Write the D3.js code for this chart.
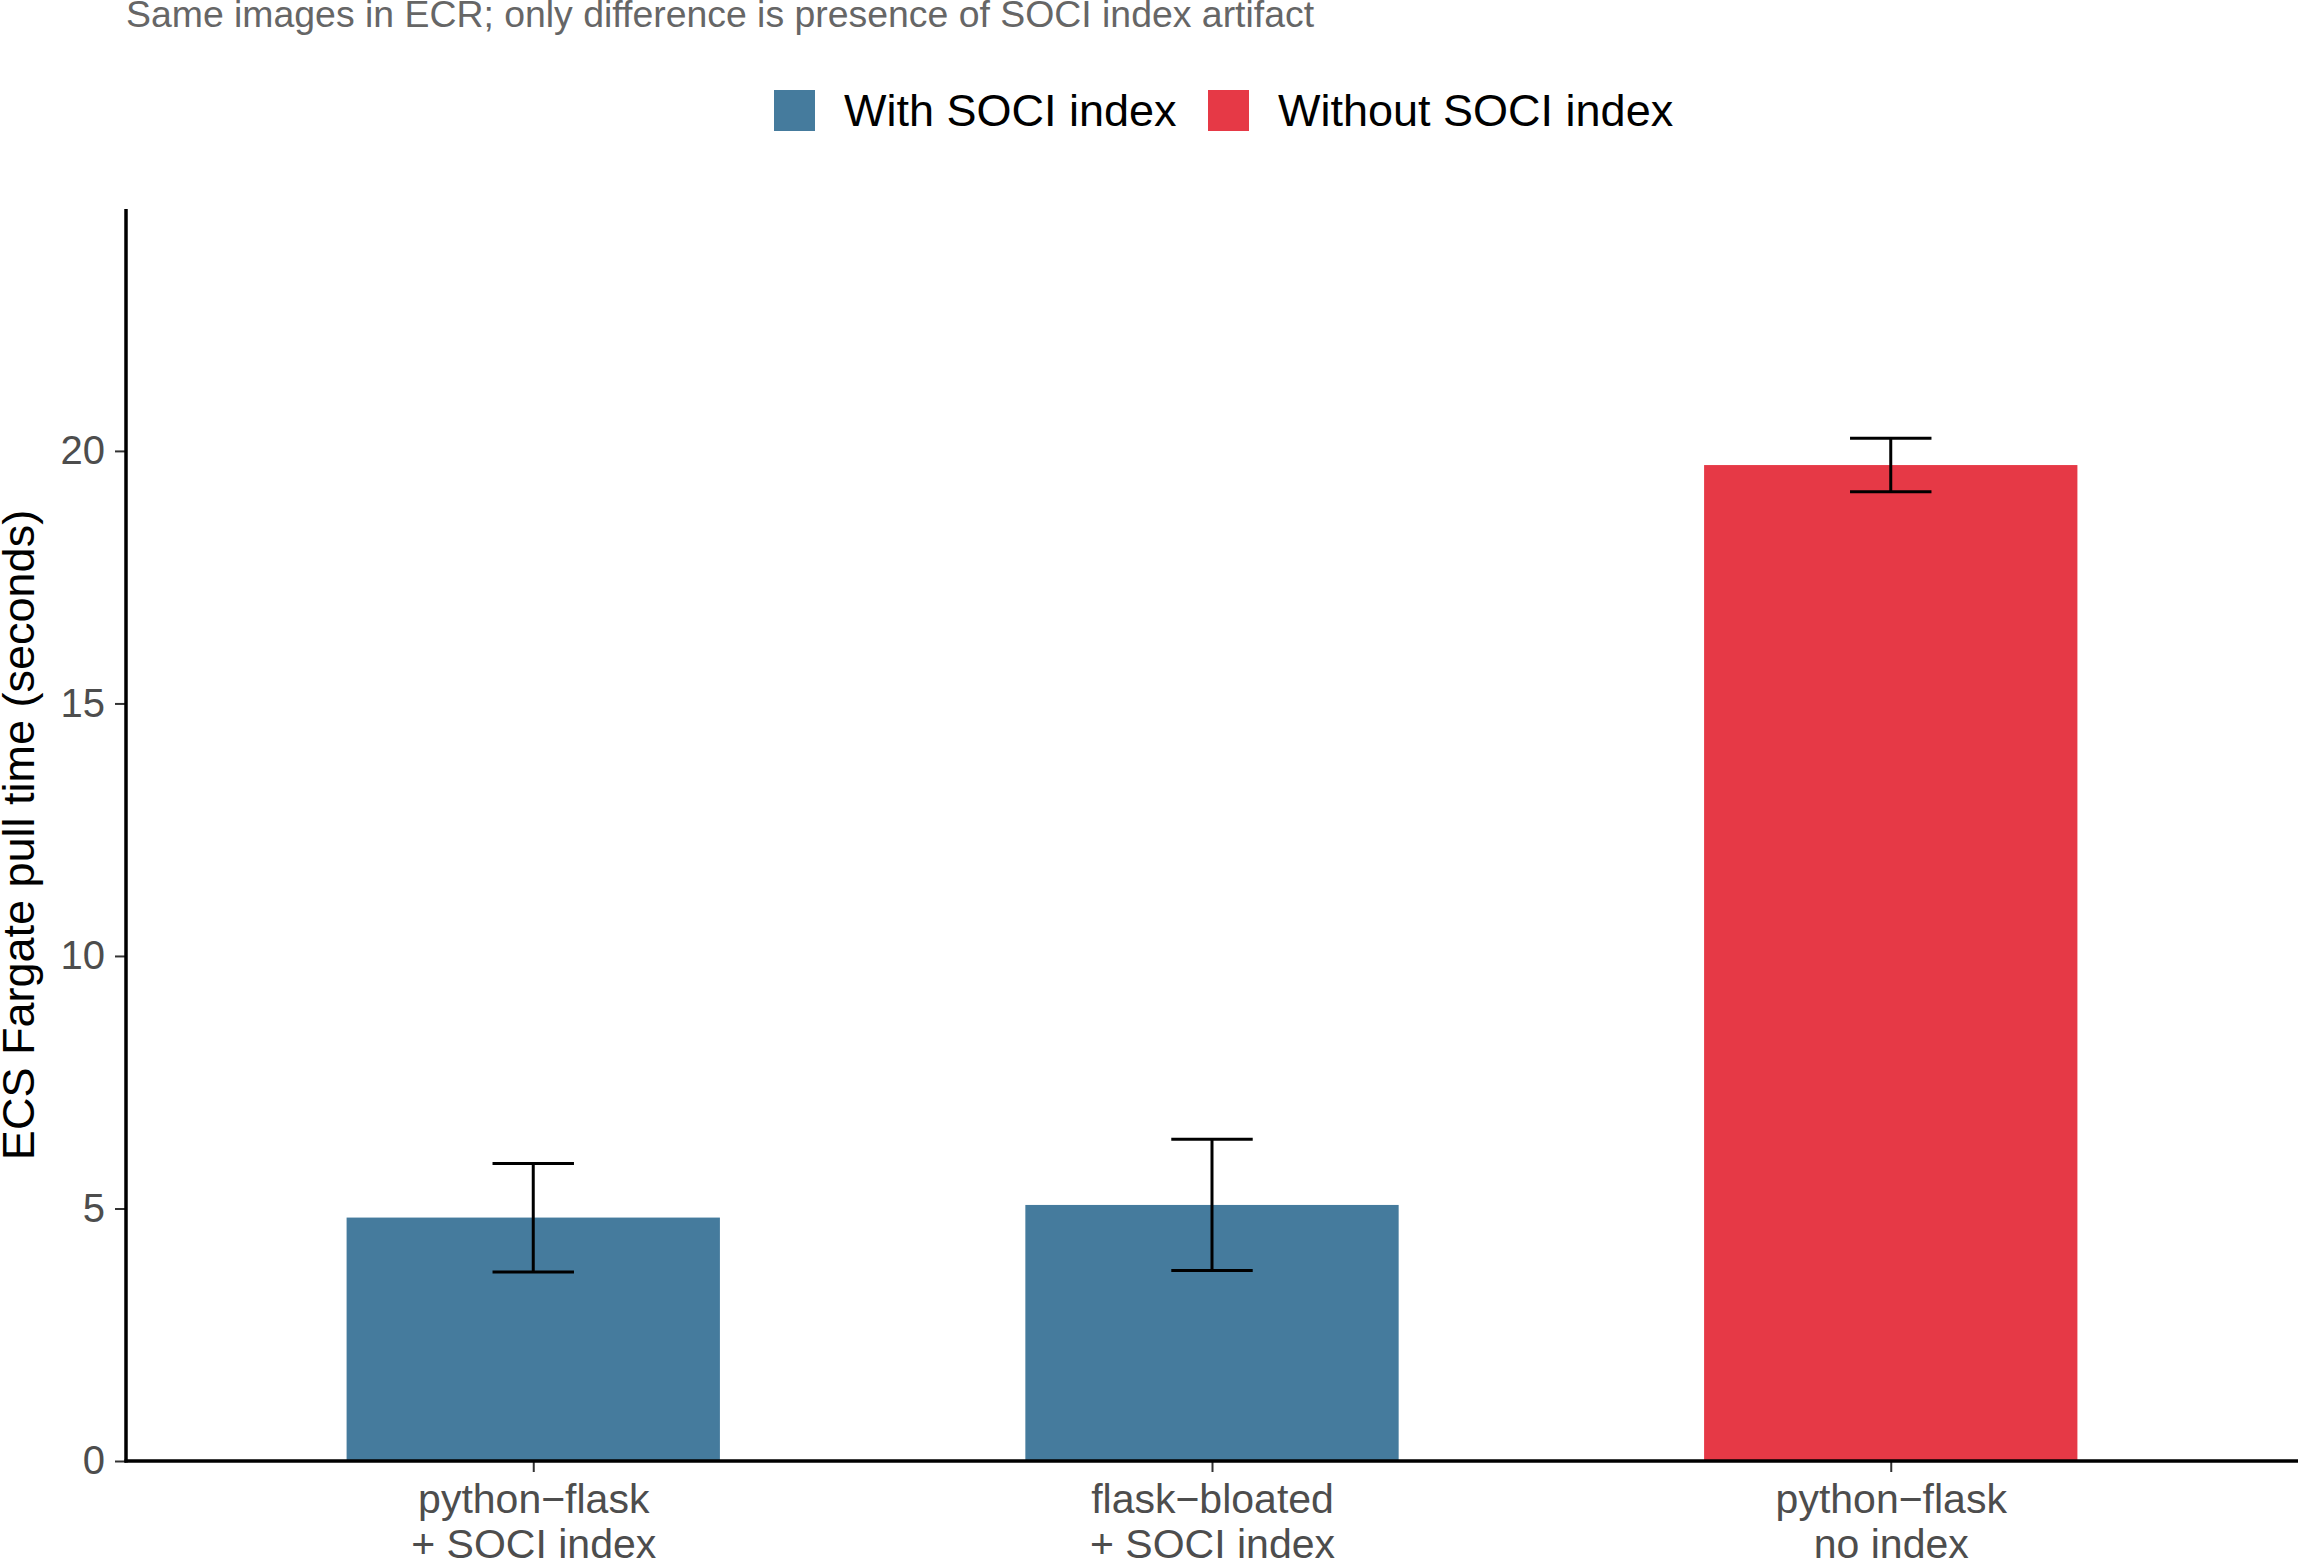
<!DOCTYPE html>
<html>
<head>
<meta charset="utf-8">
<script src="https://cdn.jsdelivr.net/npm/d3@7"></script>
<style>
  html, body { margin: 0; padding: 0; background: #fff; }
  svg { display: block; font-family: "Liberation Sans", Arial, Helvetica, sans-serif; }
</style>
</head>
<body>
<svg id="chart" width="2298" height="1560"></svg>
<script>
// ---- data ----
const categories = ["python\u2212flask\n+ SOCI index", "flask\u2212bloated\n+ SOCI index", "python\u2212flask\nno index"];
const groups = ["With SOCI index", "With SOCI index", "Without SOCI index"];
const means = [4.82, 5.07, 19.72];
const errLow = [3.74, 3.77, 19.19];
const errHigh = [5.89, 6.37, 20.25];
const yTicks = [0, 5, 10, 15, 20];
const legendLabels = ["With SOCI index", "Without SOCI index"];
const legendColors = ["#457B9D", "#E63946"];
const subtitle = "Same images in ECR; only difference is presence of SOCI index artifact";
const yTitle = "ECS Fargate pull time (seconds)";

// ---- layout ----
const svg = d3.select("#chart");
const W = 2298, H = 1560;
const plot = { left: 126, right: 2298, top: 209, bottom: 1461 };

const color = d3.scaleOrdinal().domain(legendLabels).range(legendColors);

const x = d3.scaleBand()
  .domain(categories)
  .range([plot.left, plot.right])
  .paddingInner(0.45)
  .paddingOuter(0.6 - 0.45 / 2 + 0.225); // approximate ggplot discrete expansion
// compute to match ggplot: centers at left + (0.6 + i) * unit
const unit = (plot.right - plot.left) / (categories.length - 1 + 1.2);
const barW = 0.55 * unit;
const xCenter = d3.scalePoint().domain(categories)
  .range([plot.left + 0.6 * unit, plot.left + (0.6 + categories.length - 1) * unit]);

const y = d3.scaleLinear().domain([0, 24.79]).range([plot.bottom, plot.top]);

// subtitle
svg.append("text")
  .attr("x", plot.left).attr("y", 27)
  .attr("font-size", 37.4).attr("fill", "#666666")
  .text(subtitle);

// legend
const legend = svg.append("g");
const legendX = [774, 1208];
legendLabels.forEach((lab, i) => {
  legend.append("rect")
    .attr("x", legendX[i]).attr("y", 90).attr("width", 41).attr("height", 41)
    .attr("fill", color(lab));
  legend.append("text")
    .attr("x", legendX[i] + 70).attr("y", 110.5)
    .attr("dy", "0.35em")
    .attr("font-size", 45).attr("fill", "#000")
    .text(lab);
});

// bars
const data = categories.map((c, i) => ({ c, g: groups[i], m: means[i], lo: errLow[i], hi: errHigh[i] }));
svg.append("g").selectAll("rect").data(data).join("rect")
  .attr("x", d => xCenter(d.c) - barW / 2)
  .attr("width", barW)
  .attr("y", d => y(d.m))
  .attr("height", d => y(0) - y(d.m))
  .attr("fill", d => color(d.g));

// error bars
const capHalf = 0.06 * unit;
const eb = svg.append("g").attr("stroke", "#000").attr("stroke-width", 3).attr("fill", "none");
data.forEach(d => {
  const cx = xCenter(d.c);
  eb.append("line").attr("x1", cx).attr("x2", cx).attr("y1", y(d.lo)).attr("y2", y(d.hi));
  eb.append("line").attr("x1", cx - capHalf).attr("x2", cx + capHalf).attr("y1", y(d.lo)).attr("y2", y(d.lo));
  eb.append("line").attr("x1", cx - capHalf).attr("x2", cx + capHalf).attr("y1", y(d.hi)).attr("y2", y(d.hi));
});

// y axis
const yAxis = d3.axisLeft(y).tickValues(yTicks).tickSize(11).tickPadding(10).tickFormat(d3.format("d"));
const yg = svg.append("g").attr("transform", `translate(${plot.left},0)`).call(yAxis);
yg.select(".domain").remove();
yg.selectAll(".tick line").attr("stroke", "#333333").attr("stroke-width", 2);
yg.selectAll(".tick text").attr("font-size", 40).attr("fill", "#4d4d4d")
  .attr("font-family", "Liberation Sans, Arial, sans-serif");

// x axis
const xAxis = d3.axisBottom(xCenter).tickSize(11).tickPadding(6);
const xg = svg.append("g").attr("transform", `translate(0,${plot.bottom})`).call(xAxis);
xg.select(".domain").remove();
xg.selectAll(".tick line").attr("stroke", "#333333").attr("stroke-width", 2);
xg.selectAll(".tick text").remove();
xg.selectAll(".tick").each(function(d) {
  const lines = d.split("\n");
  const t = d3.select(this).append("text")
    .attr("text-anchor", "middle").attr("font-size", 41).attr("fill", "#4d4d4d")
    .attr("font-family", "Liberation Sans, Arial, sans-serif");
  lines.forEach((ln, i) => {
    t.append("tspan").attr("x", 0).attr("y", 52 + i * 45).text(ln);
  });
});

// axis lines
svg.append("line").attr("x1", plot.left).attr("x2", plot.left)
  .attr("y1", plot.top).attr("y2", plot.bottom + 1.5)
  .attr("stroke", "#000").attr("stroke-width", 3.5);
svg.append("line").attr("x1", plot.left - 1.5).attr("x2", plot.right)
  .attr("y1", plot.bottom).attr("y2", plot.bottom)
  .attr("stroke", "#000").attr("stroke-width", 3.5);

// y title
svg.append("text")
  .attr("transform", `translate(34,${(plot.top + plot.bottom) / 2}) rotate(-90)`)
  .attr("text-anchor", "middle")
  .attr("font-size", 45).attr("fill", "#000")
  .text(yTitle);
</script>
</body>
</html>
